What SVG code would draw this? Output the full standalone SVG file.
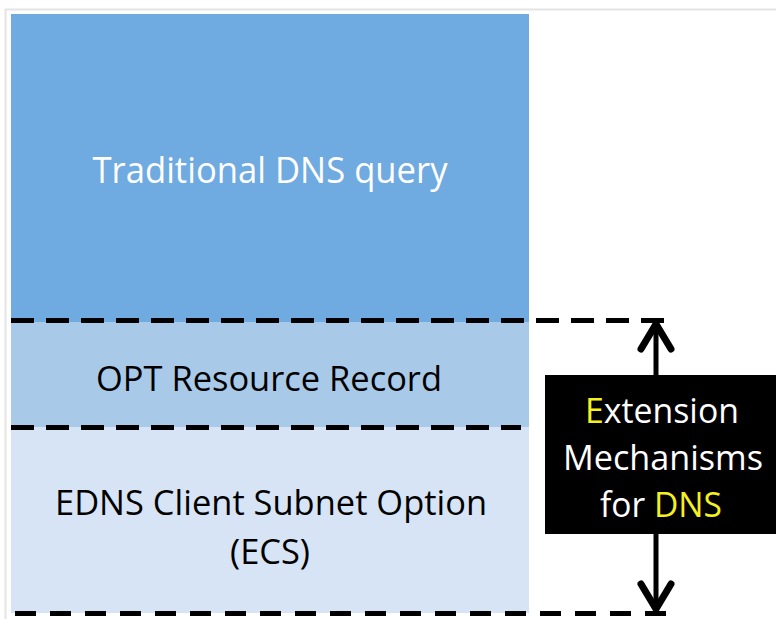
<svg xmlns="http://www.w3.org/2000/svg" width="776" height="619" viewBox="0 0 776 619">
  <defs>
    <style>
      .lbl { font-family: "Open Sans", "Liberation Sans", sans-serif; text-anchor: middle; }
      .dash { stroke: #000; stroke-width: 5; fill: none; }
      .arr { stroke: #000; fill: none; stroke-linecap: round; stroke-linejoin: round; }
      .y { fill: #F5F020; }
    </style>
  </defs>
  <rect x="0" y="0" width="776" height="619" fill="#fff"/>
  <rect x="5.5" y="9.5" width="800" height="640" fill="#fff" stroke="#e4e4e4" stroke-width="2"/>

  <g id="traditional">
    <rect x="11" y="14" width="518" height="308" fill="#6FAAE0"/>
    <text class="lbl" x="270" y="183" font-size="37" fill="#fff" textLength="355" lengthAdjust="spacingAndGlyphs">Traditional DNS query</text>
  </g>
  <g id="opt">
    <rect x="11" y="322" width="518" height="105" fill="#A9C9E9"/>
    <text class="lbl" x="269" y="391" font-size="34" fill="#000" textLength="346" lengthAdjust="spacingAndGlyphs">OPT Resource Record</text>
  </g>
  <g id="ecs">
    <rect x="11" y="427" width="518" height="186" fill="#D6E4F5"/>
    <text class="lbl" x="271" y="515" font-size="34" fill="#000" textLength="432" lengthAdjust="spacingAndGlyphs">EDNS Client Subnet Option</text>
    <text class="lbl" x="270" y="564" font-size="34" fill="#000" textLength="80" lengthAdjust="spacingAndGlyphs">(ECS)</text>
  </g>

  <g id="connectors">
    <line class="dash" x1="11" y1="320.5" x2="664" y2="320.5" stroke-dasharray="23 12"/>
    <line class="dash" x1="11" y1="427.5" x2="521" y2="427.5" stroke-dasharray="23 12"/>
    <line class="dash" x1="15" y1="613.5" x2="668" y2="613.5" stroke-dasharray="21 14"/>
    <line class="arr" x1="656" y1="325" x2="656" y2="608" stroke-width="5"/>
    <polyline class="arr" points="641,349 656,324 671,349" stroke-width="7"/>
    <polyline class="arr" points="641,584 656,609 671,584" stroke-width="7"/>
  </g>

  <g id="edns">
    <rect x="545" y="375" width="231" height="159" fill="#000"/>
    <text class="lbl" x="662" y="423" font-size="35" fill="#fff" textLength="154" lengthAdjust="spacingAndGlyphs"><tspan class="y">E</tspan>xtension</text>
    <text class="lbl" x="663" y="470" font-size="35" fill="#fff" textLength="200" lengthAdjust="spacingAndGlyphs">Mechanisms</text>
    <text class="lbl" x="661" y="517" font-size="35" fill="#fff" textLength="122" lengthAdjust="spacingAndGlyphs">for <tspan class="y">DNS</tspan></text>
  </g>
</svg>
